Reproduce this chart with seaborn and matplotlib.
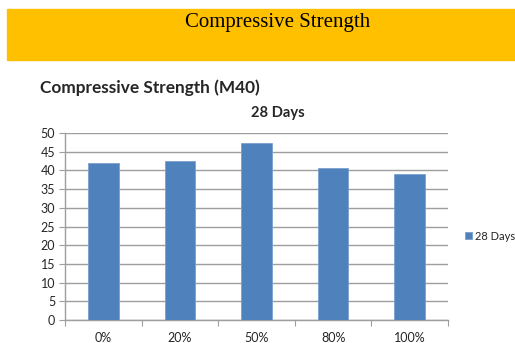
import matplotlib
matplotlib.use("Agg")
import matplotlib.pyplot as plt
import seaborn as sns
import numpy as np
from matplotlib.patches import Rectangle

# data
replacement = ["0%", "20%", "50%", "80%", "100%"]
strength_28 = [41.9, 42.4, 47.2, 40.7, 39.0]
series_name = "28 Days"

sns.set_style("white")
plt.rcParams['font.family'] = ['Lato', 'DejaVu Sans']

fig = plt.figure(figsize=(5.15, 3.43), dpi=100)

# orange banner at the top
fig.patches.append(Rectangle((7/515, 1 - 60/343), 508/515, 51/343,
                             transform=fig.transFigure, color='#FFC000', zorder=0))
fig.text(278/515, 1 - 23/343, "Compressive Strength", family='Liberation Serif',
         fontsize=15, ha='center', va='center', color='black')

ax = fig.add_axes([65/515, 1 - 320/343, 383/515, 187/343])
sns.barplot(x=replacement, y=strength_28, color='#4F81BD', width=0.4,
            saturation=1, edgecolor='#7BA0CD', linewidth=0.6, ax=ax, zorder=3,
            label=series_name)

ax.set_ylim(0, 50)
ax.set_yticks(np.arange(0, 51, 5))
ax.yaxis.grid(True, color='#9E9E9E', linewidth=1)
ax.set_axisbelow(True)
ax.set_xlim(-0.5, 4.5)

# tick marks on category boundaries, labels at centres
ax.set_xticks(np.arange(-0.5, 5, 1))
ax.set_xticklabels([])
ax.set_xticks(range(len(replacement)), minor=True)
ax.set_xticklabels(replacement, minor=True)
ax.tick_params(axis='x', which='major', length=4, color='#9E9E9E', direction='out', bottom=True)
ax.tick_params(axis='x', which='minor', length=0, pad=9, labelsize=9)
ax.tick_params(axis='y', length=4, color='#9E9E9E', direction='out', left=True, labelsize=9, pad=3)

for s in ['top', 'right']:
    ax.spines[s].set_visible(False)
for s in ['left', 'bottom']:
    ax.spines[s].set_color('#9E9E9E')
    ax.spines[s].set_linewidth(1)

ax.set_xlabel("")
ax.set_ylabel("")

fig.text(40/515, 1 - 88/343, "Compressive Strength (M40)", fontsize=12.4,
         fontweight='bold', ha='left', va='center')
fig.text(278/515, 1 - 113/343, "28 Days", fontsize=10.6, fontweight='bold',
         ha='center', va='center')

ax.legend(loc='center left', bbox_to_anchor=(459/515, 1 - 236/343),
          bbox_transform=fig.transFigure, frameon=False, fontsize=8,
          handlelength=0.65, handleheight=0.65, handletextpad=0.3, borderpad=0)

fig.savefig("out.png", dpi=100)
